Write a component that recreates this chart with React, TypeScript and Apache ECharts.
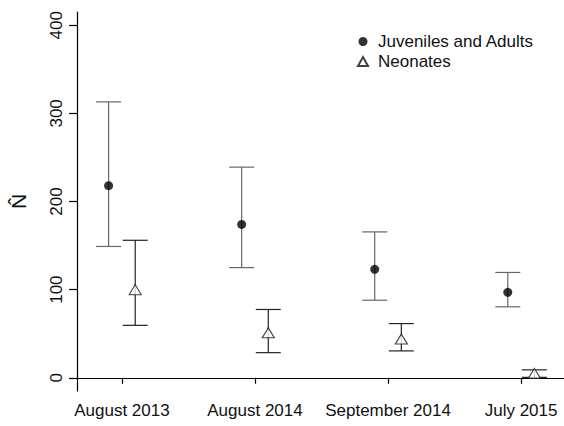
import React, { useEffect, useRef } from "react";
import * as echarts from "echarts";

// Survey periods along the x axis
const categories = ["August 2013", "August 2014", "September 2014", "July 2015"];

// Abundance estimates (N-hat) with lower / upper confidence limits
const adultEstimate = [218, 174, 123, 97];
const adultLower = [149, 125, 88, 80.5];
const adultUpper = [313, 239, 165.5, 119.5];

const neonateEstimate = [100, 51, 44, 5];
const neonateLower = [59.5, 28.5, 30.5, 0.5];
const neonateUpper = [156, 77.5, 61.5, 9];

const yTicks = [0, 100, 200, 300, 400];
const xTicks = [1, 2, 3, 4];

const OFFSET = 0.1; // horizontal dodge between the two groups
const FONT = "'Liberation Sans', Arial, Helvetica, sans-serif";

function points(est: number[], dx: number) {
  return est.map((v, i) => [i + 1 + dx, v]);
}

function intervals(lo: number[], hi: number[], dx: number) {
  return lo.map((l, i) => [i + 1 + dx, l, hi[i]]);
}

function errorBarSeries(data: number[][], color: string) {
  return {
    type: "custom",
    silent: true,
    data,
    encode: { x: 0, y: [1, 2] },
    renderItem: (_params: any, api: any) => {
      const x = api.value(0);
      const lo = api.coord([x, api.value(1)]);
      const hi = api.coord([x, api.value(2)]);
      const half = 12.5;
      const style = { stroke: color, lineWidth: 1.2 };
      return {
        type: "group",
        children: [
          { type: "line", shape: { x1: lo[0], y1: lo[1], x2: hi[0], y2: hi[1] }, style },
          { type: "line", shape: { x1: lo[0] - half, y1: lo[1], x2: lo[0] + half, y2: lo[1] }, style },
          { type: "line", shape: { x1: hi[0] - half, y1: hi[1], x2: hi[0] + half, y2: hi[1] }, style },
        ],
      };
    },
    z: 1,
  };
}

export default function App() {
  const ref = useRef<HTMLDivElement>(null);

  useEffect(() => {
    if (!ref.current) return;
    const chart = echarts.init(ref.current, null, { renderer: "svg" });
    chart.setOption({
      animation: false,
      backgroundColor: "#ffffff",
      textStyle: { fontFamily: FONT },
      grid: { left: 76, right: 0, top: 12, bottom: 35, containLabel: false },
      legend: {
        orient: "vertical",
        left: 352,
        top: 28,
        itemWidth: 10,
        itemHeight: 9,
        itemGap: 3,
        textStyle: {
          fontFamily: FONT,
          fontSize: 17,
          color: "#111",
          lineHeight: 17,
          padding: [0, 0, 0, 5],
        },
        data: ["Juveniles and Adults", "Neonates"],
      },
      xAxis: {
        type: "value",
        min: 0.6625,
        max: 4.3225,
        splitLine: { show: false },
        axisLine: { show: true, lineStyle: { color: "#000", width: 1.2 } },
        axisTick: {
          show: true,
          length: 6,
          customValues: xTicks,
          lineStyle: { color: "#000", width: 1.2 },
        },
        axisLabel: {
          customValues: xTicks,
          formatter: (v: number) => categories[Math.round(v) - 1] ?? "",
          fontFamily: FONT,
          fontSize: 17,
          color: "#111",
          margin: 11,
        },
      },
      yAxis: {
        type: "value",
        min: -15,
        max: 415,
        name: "N\u0302",
        nameLocation: "middle",
        nameRotate: 90,
        nameGap: 48,
        nameTextStyle: { fontFamily: FONT, fontSize: 21, color: "#111" },
        splitLine: { show: false },
        axisLine: { show: true, lineStyle: { color: "#000", width: 1.2 } },
        axisTick: {
          show: true,
          length: 8,
          customValues: yTicks,
          lineStyle: { color: "#000", width: 1.2 },
        },
        axisLabel: {
          customValues: yTicks,
          rotate: 90,
          fontFamily: FONT,
          fontSize: 17,
          color: "#111",
          margin: 12,
        },
      },
      series: [
        errorBarSeries(intervals(adultLower, adultUpper, -OFFSET), "#666"),
        errorBarSeries(intervals(neonateLower, neonateUpper, OFFSET), "#222"),
        {
          name: "Juveniles and Adults",
          type: "scatter",
          symbol: "circle",
          symbolSize: 9,
          itemStyle: { color: "#000" },
          data: points(adultEstimate, -OFFSET),
          z: 3,
        },
        {
          name: "Neonates",
          type: "scatter",
          symbol: "triangle",
          symbolSize: [12, 10],
          itemStyle: { color: "#fff", borderColor: "#111", borderWidth: 1.1 },
          data: points(neonateEstimate, OFFSET),
          z: 3,
        },
      ],
    });
    return () => chart.dispose();
  }, []);

  return (
    <div
      ref={ref}
      style={{ position: "fixed", left: 0, top: 0, width: 564, height: 426 }}
    />
  );
}
